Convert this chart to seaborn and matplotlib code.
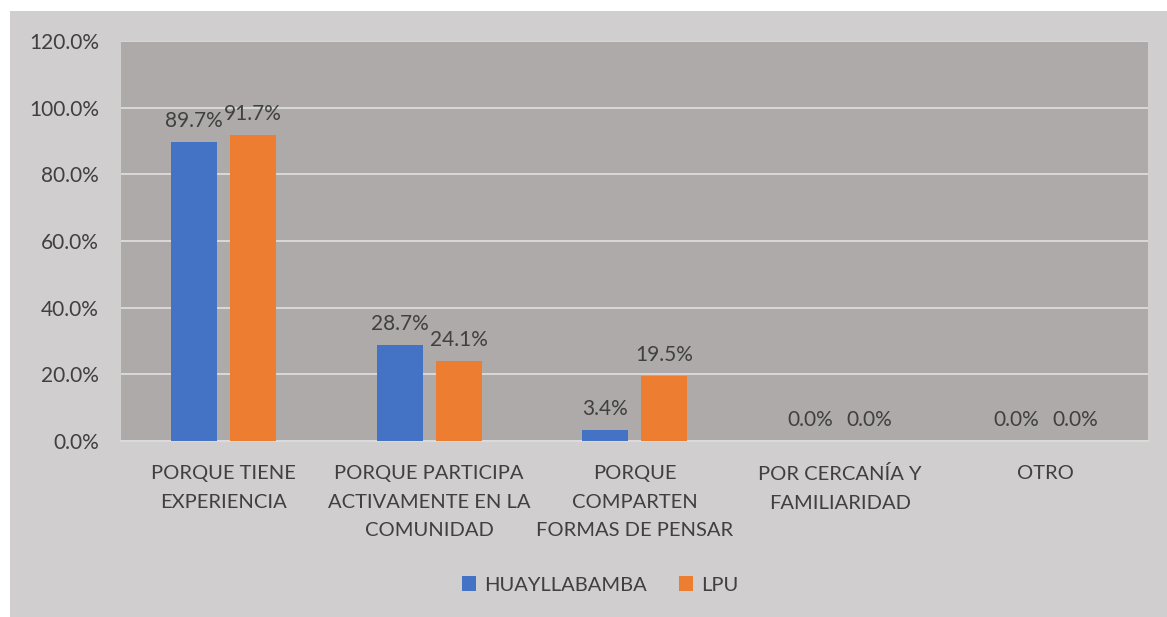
import matplotlib
matplotlib.use('Agg')
import matplotlib.pyplot as plt
import matplotlib.patches as mpatches
import pandas as pd
import seaborn as sns

categories = [
    "PORQUE TIENE\nEXPERIENCIA",
    "PORQUE PARTICIPA\nACTIVAMENTE EN LA\nCOMUNIDAD",
    "PORQUE\nCOMPARTEN\nFORMAS DE PENSAR",
    "POR CERCANÍA Y\nFAMILIARIDAD",
    "OTRO",
]
series_names = ["HUAYLLABAMBA", "LPU"]
huayllabamba = [89.7, 28.7, 3.4, 0.0, 0.0]
lpu = [91.7, 24.1, 19.5, 0.0, 0.0]
y_ticks = [0, 20, 40, 60, 80, 100, 120]

colors = ["#4472c4", "#ed7d31"]
text_color = "#404040"

df = pd.DataFrame({
    "categoria": categories * 2,
    "serie": [series_names[0]] * len(categories) + [series_names[1]] * len(categories),
    "valor": huayllabamba + lpu,
})

sns.set_theme(style="white")
plt.rcParams['font.family'] = ['Lato', 'DejaVu Sans']

fig = plt.figure(figsize=(11.67, 6.17), dpi=100, facecolor="white")
# outer chart area (light gray), small white margin top/left
fig.patches.append(mpatches.Rectangle((10 / 1167, 0), 1, (617 - 11) / 617,
                                      transform=fig.transFigure,
                                      facecolor="#d0cece", edgecolor="none", zorder=-5))

ax = fig.add_axes([121 / 1167, 1 - 441 / 617, (1148 - 121) / 1167, 400 / 617])
ax.set_facecolor("#aeaaaa")

sns.barplot(data=df, x="categoria", y="valor", hue="serie", palette=colors,
            width=0.575, gap=0.22, ax=ax, saturation=1, legend=True, zorder=3,
            linewidth=0)

ax.set_ylim(0, 120)
ax.set_yticks(y_ticks)
ax.set_yticklabels([f"{v:.1f}%" for v in y_ticks], fontsize=15, color=text_color)
ax.tick_params(axis="x", labelsize=14.5, colors=text_color, length=0, pad=17)
ax.tick_params(axis="y", length=0, pad=16)
for lbl in ax.get_xticklabels():
    lbl.set_linespacing(1.85)
ax.yaxis.grid(True, color="#dcdcdc", linewidth=1.3, zorder=1)
ax.set_axisbelow(True)
for side in ["top", "right", "left"]:
    ax.spines[side].set_visible(False)
ax.spines["bottom"].set_color("#dcdcdc")
ax.spines["bottom"].set_linewidth(1.3)
ax.set_xlabel("")
ax.set_ylabel("")

for container in ax.containers:
    ax.bar_label(container, labels=[f"{b.get_height():.1f}%" for b in container],
                 padding=8, fontsize=15, color=text_color)

handles, labels = ax.get_legend_handles_labels()
ax.legend(handles, labels, loc="center", bbox_to_anchor=(600 / 1167, 1 - 585 / 617),
          bbox_transform=fig.transFigure, ncol=2, frameon=False, fontsize=14.5,
          labelcolor=text_color, handlelength=0.7, handleheight=0.7,
          handletextpad=0.4, columnspacing=1.6)

fig.savefig("out.png", dpi=100, facecolor=fig.get_facecolor())
